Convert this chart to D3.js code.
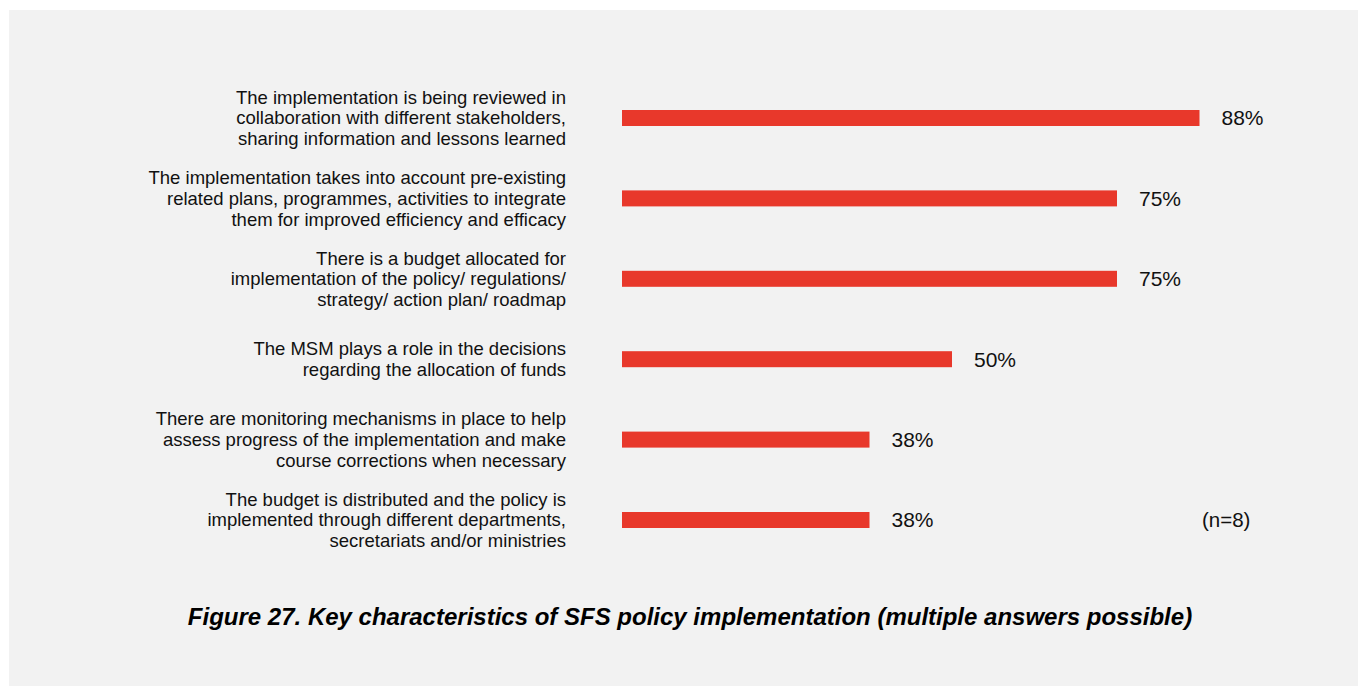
<!DOCTYPE html>
<html>
<head>
<meta charset="utf-8">
<script src="https://cdn.jsdelivr.net/npm/d3@7"></script>
<style>
  body { margin: 0; background: #ffffff; }
  svg { display: block; font-family: "Liberation Sans", Arial, sans-serif; }
</style>
</head>
<body>
<div id="chart"></div>
<script>
// Key characteristics of SFS policy implementation

var categories = [
  ["The implementation is being reviewed in", "collaboration with different stakeholders,", "sharing information and lessons learned"],
  ["The implementation takes into account pre-existing", "related plans, programmes, activities to integrate", "them for improved efficiency and efficacy"],
  ["There is a budget allocated for", "implementation of the policy/ regulations/", "strategy/ action plan/ roadmap"],
  ["The MSM plays a role in the decisions", "regarding the allocation of funds"],
  ["There are monitoring mechanisms in place to help", "assess progress of the implementation and make", "course corrections when necessary"],
  ["The budget is distributed and the policy is", "implemented through different departments,", "secretariats and/or ministries"]
];
var values = [87.5, 75, 75, 50, 37.5, 37.5];
var sampleNote = "(n=8)";
var caption = "Figure 27. Key characteristics of SFS policy implementation (multiple answers possible)";

var svgWidth = 1358;
var svgHeight = 686;

var svg = d3.select("#chart")
  .append("svg")
  .attr("width", svgWidth)
  .attr("height", svgHeight);

// grey panel
svg.append("rect")
  .attr("x", 9)
  .attr("y", 10)
  .attr("width", svgWidth - 9)
  .attr("height", svgHeight - 10)
  .attr("fill", "#f2f2f2");

var idx = d3.range(values.length);

var xScale = d3.scaleLinear()
  .domain([0, 100])
  .range([622, 622 + 660]);

var yScale = d3.scalePoint()
  .domain(idx)
  .range([118, 520]);

var barHeight = 16;

// bars
svg.append("g")
  .selectAll("rect")
  .data(idx)
  .enter()
  .append("rect")
  .attr("x", xScale(0))
  .attr("y", d => yScale(d) - barHeight / 2)
  .attr("width", d => xScale(values[d]) - xScale(0))
  .attr("height", barHeight)
  .attr("fill", "#e8382b");

// value labels
svg.append("g")
  .selectAll("text")
  .data(idx)
  .enter()
  .append("text")
  .attr("x", d => xScale(values[d]) + 22)
  .attr("y", d => yScale(d))
  .attr("dy", "0.35em")
  .attr("font-size", "21px")
  .attr("fill", "#111")
  .text(d => Math.round(values[d]) + "%");

// category labels (right aligned, wrapped)
var lineHeight = 20.7;
var catLabels = svg.append("g")
  .selectAll("text")
  .data(idx)
  .enter()
  .append("text")
  .attr("text-anchor", "end")
  .attr("font-size", "18.5px")
  .attr("fill", "#111")
  .attr("y", d => yScale(d));

catLabels.each(function(d) {
  var lines = categories[d];
  var offset = -(lines.length - 1) / 2 * lineHeight;
  d3.select(this).selectAll("tspan")
    .data(lines)
    .enter()
    .append("tspan")
    .attr("x", 566)
    .attr("y", (l, i) => yScale(d) + offset + i * lineHeight)
    .attr("dy", "0.35em")
    .text(l => l);
});

// sample size note
svg.append("text")
  .attr("x", 1202)
  .attr("y", yScale(values.length - 1))
  .attr("dy", "0.35em")
  .attr("font-size", "20.5px")
  .attr("fill", "#111")
  .text(sampleNote);

// caption
svg.append("text")
  .attr("x", 690)
  .attr("y", 625)
  .attr("text-anchor", "middle")
  .attr("font-size", "24px")
  .attr("font-weight", "bold")
  .attr("font-style", "italic")
  .attr("fill", "#000")
  .text(caption);
</script>
</body>
</html>
